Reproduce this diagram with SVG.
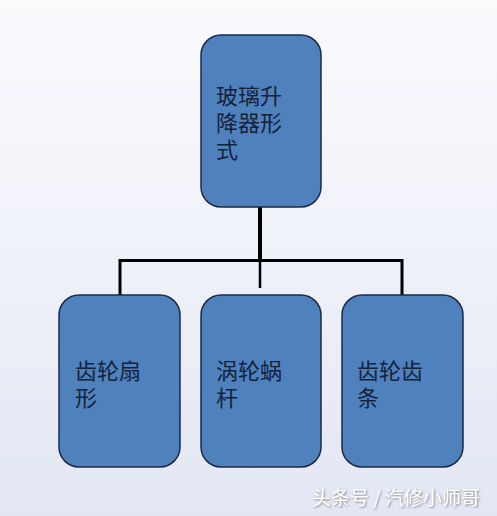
<svg xmlns="http://www.w3.org/2000/svg" width="497" height="516" viewBox="0 0 497 516">
<defs>
<linearGradient id="bg" x1="0" y1="0" x2="0" y2="1">
<stop offset="0" stop-color="#fbfbfe"/>
<stop offset="1" stop-color="#e3e7f3"/>
</linearGradient>
<filter id="sh" x="-10%" y="-30%" width="120%" height="160%">
<feDropShadow dx="1" dy="1" stdDeviation="0.8" flood-color="#777" flood-opacity="0.9"/>
</filter>
</defs>
<style>
.box{fill:#4f81bd;stroke:#1c2a48;stroke-width:1.5}
.lbl{font-family:"Noto Sans CJK SC","Noto Sans CJK JP",sans-serif;font-size:22px;fill:#14223c}
.ln{stroke:#000;fill:none}
.wm{font-family:"Noto Sans CJK SC",sans-serif;font-size:19px;fill:#fff}
</style>
<rect width="497" height="516" fill="url(#bg)"/>
<g id="connectors">
<line class="ln" x1="260" y1="202" x2="260" y2="261" stroke-width="4"/>
<line class="ln" x1="260" y1="260" x2="260" y2="288" stroke-width="2.5"/>
<polyline class="ln" points="120,295 120,260.5 402,260.5 402,295" stroke-width="3"/>
</g>
<g id="root">
<rect class="box" x="201" y="35" width="120" height="172" rx="20"/>
<text class="lbl" x="216" y="104">玻璃升<tspan x="216" dy="27">降器形</tspan><tspan x="216" dy="27">式</tspan></text>
</g>
<g id="sector">
<rect class="box" x="59" y="295" width="121" height="172" rx="20"/>
<text class="lbl" x="75" y="379">齿轮扇<tspan x="75" dy="27">形</tspan></text>
</g>
<g id="worm">
<rect class="box" x="201" y="295" width="120" height="172" rx="20"/>
<text class="lbl" x="216" y="379">涡轮蜗<tspan x="216" dy="27">杆</tspan></text>
</g>
<g id="rack">
<rect class="box" x="342" y="295" width="121" height="172" rx="20"/>
<text class="lbl" x="357" y="379">齿轮齿<tspan x="357" dy="27">条</tspan></text>
</g>
<text class="wm" x="312" y="505" filter="url(#sh)">头条号 / 汽修小师哥</text>
</svg>
